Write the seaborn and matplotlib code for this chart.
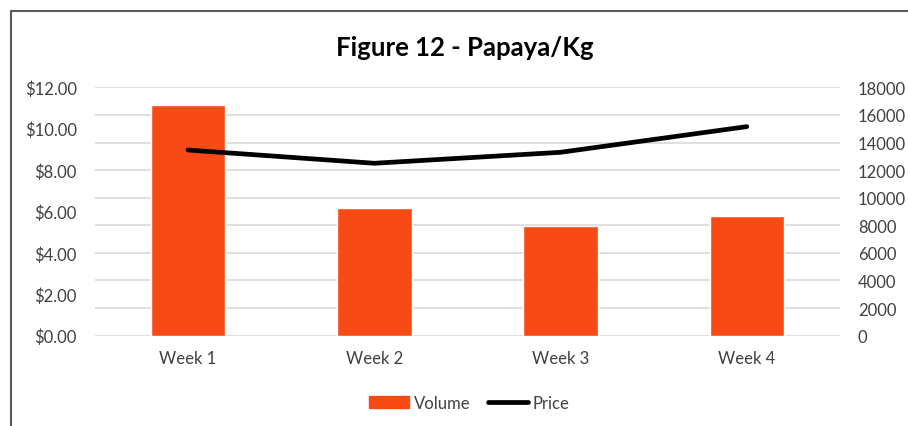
import pandas as pd
import matplotlib.pyplot as plt
import seaborn as sns
from matplotlib.patches import Rectangle
from matplotlib.lines import Line2D

weeks = ["Week 1", "Week 2", "Week 3", "Week 4"]
volume = [16750, 9270, 7970, 8670]
price = [8.97, 8.33, 8.86, 10.10]

df = pd.DataFrame({"Week": weeks, "Volume": volume, "Price": price})

sns.set_theme(style="white")
plt.rcParams['font.family'] = ['Lato', 'DejaVu Sans']

bar_color = "#F84A14"
text_color = "#404040"

fig = plt.figure(figsize=(9.08, 4.27), dpi=100)
ax = fig.add_axes([0.1046, 0.2115, 0.8204, 0.5817])
ax2 = ax.twinx()

# bars (volume) on the secondary axis, drawn underneath the price line
sns.barplot(data=df, x="Week", y="Volume", color=bar_color, width=0.4,
            saturation=1, ax=ax2, zorder=2)
ax2.set_ylim(0, 18000)
ax2.set_yticks(range(0, 18001, 2000))
ax2.grid(axis="y", color="#D9D9D9", linewidth=1.2, zorder=0)
ax2.set_axisbelow(True)

sns.lineplot(data=df, x="Week", y="Price", color="black", linewidth=3.4,
             ax=ax, sort=False)
ax.set_ylim(0, 12)
ax.set_yticks(range(0, 13, 2))
ax.set_yticklabels([f"${v:.2f}" for v in range(0, 13, 2)])
ax.set_xlim(-0.5, 3.5)
ax.set_zorder(ax2.get_zorder() + 1)
ax.patch.set_visible(False)
ax.grid(False)

for a in (ax, ax2):
    a.set_xlabel("")
    a.set_ylabel("")
    for s in a.spines.values():
        s.set_visible(False)
    a.tick_params(length=0, labelsize=12, colors=text_color)
ax.tick_params(axis="y", pad=13)
ax.tick_params(axis="x", pad=10)
ax2.tick_params(axis="y", pad=13)

fig.text(0.512, 0.888, "Figure 12 - Papaya/Kg", ha="center", va="center",
         fontsize=18.5, fontweight="bold", color="black")

handles = [Rectangle((0, 0), 1, 1, color=bar_color),
           Line2D([0], [0], color="black", linewidth=3.4)]
fig.legend(handles, ["Volume", "Price"], loc="center", ncol=2,
           bbox_to_anchor=(0.517, 0.055), frameon=False, fontsize=12,
           handlelength=2.4, handletextpad=0.3, columnspacing=1.0,
           labelcolor=text_color)

# chart border (only left and top edges fall inside the image)
fig.lines.append(Line2D([0.012, 0.012], [0, 0.972], transform=fig.transFigure,
                        color="#595959", linewidth=1.5))
fig.lines.append(Line2D([0.012, 1.0], [0.972, 0.972], transform=fig.transFigure,
                        color="#595959", linewidth=1.5))

fig.savefig("out.png", dpi=100)
